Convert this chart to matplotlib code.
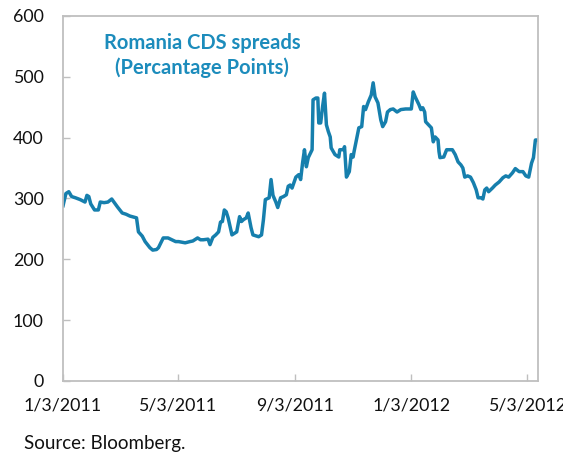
import datetime as dt
import numpy as np
import matplotlib
matplotlib.use("Agg")
import matplotlib.pyplot as plt
import matplotlib.dates as mdates

plt.rcParams['font.family'] = ['Lato', 'DejaVu Sans']

# days since 1/3/2011 and CDS spread values
days = [0, 1, 3, 6, 9, 13, 18, 23, 25, 27, 29, 33, 37, 39, 43, 47, 51, 57, 62, 66,
        70, 77, 79, 83, 86, 91, 94, 98, 100, 105, 110, 114, 118, 121, 128, 133, 136,
        141, 144, 147, 152, 154, 157, 160, 163, 165, 167, 169, 171, 173, 177, 179,
        182, 185, 187, 189, 192, 194, 197, 199, 203, 205, 208, 210, 212, 216, 218,
        220, 223, 225, 228, 231, 234, 236, 238, 240, 244, 247, 249, 251, 253, 255,
        257, 261, 262, 265, 267, 268, 270, 272, 274, 276, 278, 280, 281, 285, 289,
        290, 294, 295, 297, 300, 302, 304, 305, 310, 313, 315, 317, 320, 323, 325,
        327, 330, 333, 335, 338, 340, 343, 346, 350, 354, 359, 365, 367, 369, 372,
        373, 375, 377, 379, 380, 383, 386, 388, 390, 393, 394, 395, 399, 402, 408,
        411, 414, 417, 419, 421, 424, 427, 430, 433, 435, 438, 440, 442, 444, 446,
        450, 453, 457, 461, 464, 467, 471, 474, 478, 482, 485, 488, 491, 493, 495, 498]
spreads = [288, 295, 308, 311, 303, 301, 298, 294, 305, 303, 291, 281, 281, 294, 293,
           294, 299, 286, 276, 274, 271, 268, 245, 238, 229, 219, 215, 216, 219, 235,
           235, 232, 229, 229, 227, 229, 230, 235, 232, 232, 233, 224, 236, 240, 245,
           261, 262, 281, 278, 268, 240, 242, 245, 270, 262, 265, 268, 276, 252, 240,
           238, 237, 240, 265, 298, 301, 331, 305, 294, 285, 301, 303, 306, 320, 322,
           317, 335, 339, 331, 358, 380, 352, 367, 380, 462, 465, 465, 424, 424, 451,
           473, 421, 410, 401, 383, 372, 368, 380, 380, 385, 335, 344, 372, 368, 377,
           416, 418, 451, 446, 459, 470, 490, 467, 457, 429, 418, 426, 442, 446, 447,
           442, 446, 447, 447, 475, 467, 457, 454, 446, 449, 442, 426, 421, 416, 393,
           401, 396, 377, 367, 368, 380, 380, 372, 360, 355, 350, 335, 337, 335, 326,
           314, 301, 301, 299, 314, 317, 311, 317, 322, 327, 334, 337, 335, 342, 349,
           344, 344, 337, 335, 358, 367, 396, 396]
tick_dates = ["2011-01-03", "2011-05-03", "2011-09-03", "2012-01-03", "2012-05-03"]
tick_labels = ["1/3/2011", "5/3/2011", "9/3/2011", "1/3/2012", "5/3/2012"]

start = dt.date(2011, 1, 3)
dates = [start + dt.timedelta(days=d) for d in days]
ticks = [dt.date.fromisoformat(s) for s in tick_dates]

fig = plt.figure(figsize=(5.63, 4.54), dpi=100)
ax = fig.add_axes([0.112, 0.161, 0.844, 0.804])

ax.plot(dates, spreads, color="#167fad", lw=2.5, solid_joinstyle="round")

ax.set_xlim(start, dt.date(2012, 5, 15))
ax.set_ylim(0, 600)
ax.set_yticks(range(0, 601, 100))
ax.set_xticks(ticks)
ax.set_xticklabels(tick_labels)

for s in ax.spines.values():
    s.set_color("#bfbfbf")
    s.set_linewidth(1.3)
ax.tick_params(axis="both", direction="in", color="#bfbfbf", width=1, length=5,
               labelsize=12.8, labelcolor="#111111")
ax.tick_params(axis="y", pad=14)
ax.tick_params(axis="x", pad=12)

ax.text(0.293, 0.926, "Romania CDS spreads", transform=ax.transAxes, ha="center",
        va="center", fontsize=14.5, fontweight="bold", color="#1c8cbc")
ax.text(0.293, 0.858, "(Percantage Points)", transform=ax.transAxes, ha="center",
        va="center", fontsize=14.5, fontweight="bold", color="#1c8cbc")

fig.text(24 / 563, 1 - 443 / 454, "Source: Bloomberg.", ha="left", va="center",
         fontsize=13.5, color="#111111")

fig.savefig("out.png", dpi=100)
